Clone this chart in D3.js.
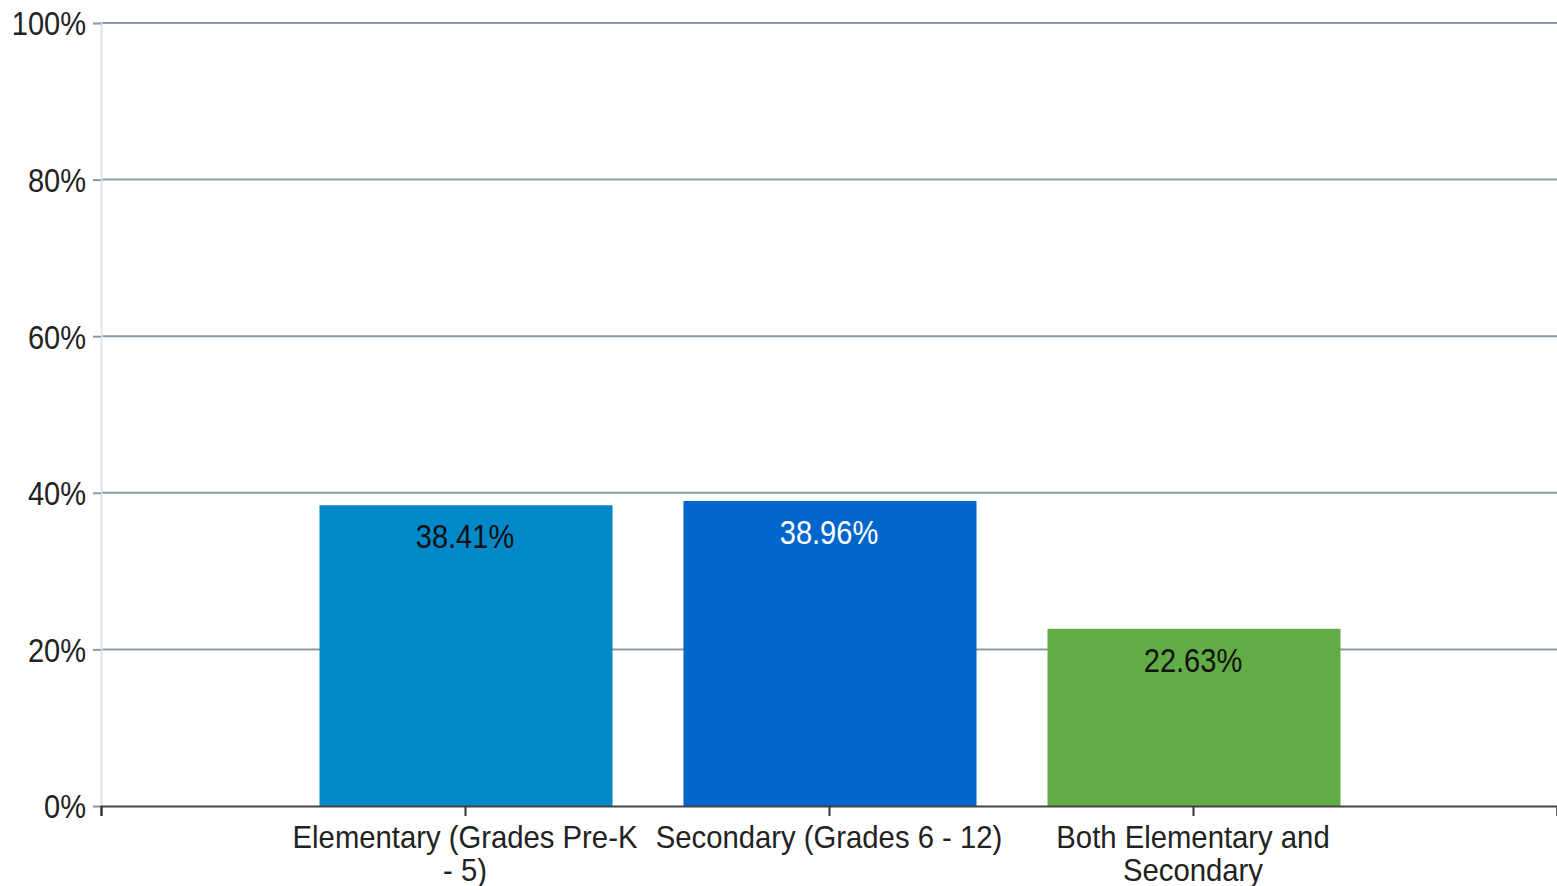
<!DOCTYPE html>
<html>
<head>
<meta charset="utf-8">
<script src="https://cdn.jsdelivr.net/npm/d3@7"></script>
<style>
  body { margin: 0; background: #fff; }
  text { font-family: "Liberation Sans", Arial, sans-serif; }
</style>
</head>
<body>
<div id="chart"></div>
<script>
// data
var categories = ["Elementary (Grades Pre-K - 5)", "Secondary (Grades 6 - 12)", "Both Elementary and Secondary"];
var values = [38.41, 38.96, 22.63];
var barColors = ["#0088c8", "#0066cc", "#62ac46"];
var labelColors = ["#111", "#fff", "#111"];
var yTicks = [0, 20, 40, 60, 80, 100];

// set the dimensions and margins of the graph
var margin = {top: 20, right: 0, bottom: 80, left: 101},
  width = 1557 - margin.left - margin.right,
  height = 886 - margin.top - margin.bottom;

// the reference font is narrow and tall, so squeeze text horizontally
var squeeze = 0.88;
var catSqueeze = 0.915;
var fontSize = "33px";

// categories sit at 1..n, with an empty slot at each end
var x = d3.scaleLinear().domain([0, categories.length + 1]).range([0, width]);
var y = d3.scaleLinear().domain([0, 100]).range([height, 3]);
var step = x(1) - x(0);
var barW = step * 0.805;

var svg = d3.select("#chart").append("svg")
  .attr("width", 1557)
  .attr("height", 886)
  .append("g")
  .attr("transform", "translate(" + margin.left + "," + margin.top + ")");

// gridlines
svg.append("g")
  .selectAll("line")
  .data(yTicks.slice(1))
  .enter().append("line")
  .attr("x1", 0).attr("x2", width)
  .attr("y1", function(d) { return y(d); })
  .attr("y2", function(d) { return y(d); })
  .attr("stroke", "#8d9aa6")
  .attr("stroke-width", 2);

// y axis
var yAxis = svg.append("g")
  .call(d3.axisLeft(y).tickValues(yTicks).tickSize(8).tickPadding(6)
    .tickFormat(function(d) { return d + "%"; }));
yAxis.select(".domain").attr("stroke", "#dfe3ee").attr("stroke-width", 2);
yAxis.selectAll(".tick line").attr("stroke", "#8d9aa6").attr("stroke-width", 2);
yAxis.selectAll(".tick text")
  .style("font-family", "'Liberation Sans', Arial, sans-serif")
  .style("font-size", fontSize)
  .attr("fill", "#222")
  .attr("x", -15 / squeeze)
  .attr("dy", "0.36em")
  .attr("transform", "scale(" + squeeze + ",1)");

// bars
svg.selectAll(".bar")
  .data(values)
  .enter().append("rect")
  .attr("class", "bar")
  .attr("x", function(d, i) { return x(i + 1) - barW / 2 + 1; })
  .attr("y", function(d) { return y(d); })
  .attr("width", barW)
  .attr("height", function(d) { return height - y(d); })
  .attr("fill", function(d, i) { return barColors[i]; });

// value labels
svg.selectAll(".val")
  .data(values)
  .enter().append("text")
  .attr("class", "val")
  .attr("transform", function(d, i) {
    return "translate(" + x(i + 1) + "," + (y(d) + 43) + ") scale(" + squeeze + ",1)";
  })
  .attr("text-anchor", "middle")
  .style("font-size", fontSize)
  .attr("fill", function(d, i) { return labelColors[i]; })
  .text(function(d) { return d.toFixed(2) + "%"; });

// x axis
var xAxis = svg.append("g")
  .attr("transform", "translate(0," + height + ")")
  .call(d3.axisBottom(x).tickValues(d3.range(0, categories.length + 2)).tickSize(10).tickFormat(""));
xAxis.select(".domain").attr("stroke", "#444").attr("stroke-width", 2);
xAxis.selectAll(".tick line").attr("stroke", "#333").attr("stroke-width", 2);

// category labels, wrapped to the slot width
var catText = svg.selectAll(".cat")
  .data(categories)
  .enter().append("text")
  .attr("class", "cat")
  .attr("text-anchor", "middle")
  .style("font-size", "32px")
  .attr("fill", "#222")
  .attr("transform", function(d, i) {
    return "translate(" + x(i + 1) + "," + (height + 42) + ") scale(" + catSqueeze + ",1)";
  });

var maxW = 362 / catSqueeze;
catText.each(function(d) {
  var t = d3.select(this);
  var words = d.split(" "), line = [], lines = [];
  var probe = t.append("tspan");
  words.forEach(function(w) {
    line.push(w);
    probe.text(line.join(" "));
    if (probe.node().getComputedTextLength() > maxW && line.length > 1) {
      line.pop();
      lines.push(line.join(" "));
      line = [w];
    }
  });
  lines.push(line.join(" "));
  probe.remove();
  lines.forEach(function(l, k) {
    t.append("tspan").attr("x", 0).attr("dy", k == 0 ? 0 : 33).text(l);
  });
});
</script>
</body>
</html>
